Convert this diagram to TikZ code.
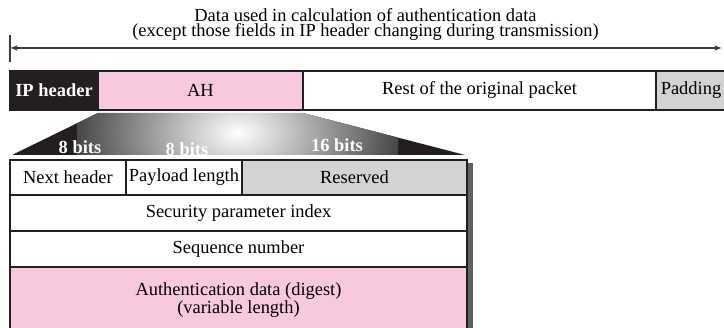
\documentclass[tikz,border=0pt]{standalone}
\usepackage{fontspec}
\setmainfont{Liberation Serif}
\usetikzlibrary{arrows.meta,positioning}
\definecolor{ahpink}{RGB}{247,200,222}
\definecolor{padgray}{RGB}{209,211,212}
\definecolor{hdrblack}{RGB}{35,31,32}
\definecolor{spangray}{RGB}{60,60,60}

\begin{document}
\begin{tikzpicture}[font=\fontsize{10.5}{9.1}\selectfont, >={Latex[length=4pt,width=3pt]},
  field/.style={draw=hdrblack, line width=0.6pt, minimum height=0.78cm, inner sep=0pt, outer sep=0pt, anchor=west},
  ahrow/.style={draw=hdrblack, line width=0.9pt, inner sep=0pt, outer sep=0pt, anchor=north west},
  bitslabel/.style={text=white, font=\fontsize{10.5}{9.1}\selectfont\bfseries}]

\useasboundingbox (0,0) rectangle (14.48,6.56);

% ---------- span of authenticated data ----------
\node[align=center] (span) at (7.31,6.07)
  {Data used in calculation of authentication data\\(except those fields in IP header changing during transmission)};
\coordinate (spanL) at (0.20,5.60);
\coordinate (spanR) at (14.44,5.60);
\draw[spangray,line width=0.6pt] ([yshift=0.26cm]spanL) -- ([yshift=-0.28cm]spanL);
\draw[<->,spangray,line width=0.6pt] (spanL) -- (spanR);

% ---------- packet ----------
\node[field, fill=hdrblack, text=white, font=\fontsize{10.5}{9.1}\selectfont\bfseries, minimum width=1.76cm] (iph) at (0.20,4.75) {IP header};
\node[field, fill=ahpink, minimum width=4.10cm, right=0pt of iph] (ah) {AH};
\node[field, minimum width=7.06cm, right=0pt of ah] (rest) {Rest of the original packet};
\node[field, fill=padgray, minimum width=1.40cm, right=0pt of rest] (pad) {Padding};

% ---------- AH format ----------
\node[ahrow, minimum width=2.32cm, minimum height=0.70cm] (nh) at (0.20,3.36) {Next header};
\node[ahrow, minimum width=2.32cm, minimum height=0.70cm] (pl) at (nh.north east) {Payload length};
\node[ahrow, fill=padgray, minimum width=4.50cm, minimum height=0.70cm] (rsv) at (pl.north east) {Reserved};
\node[ahrow, minimum width=9.14cm, minimum height=0.72cm] (spi) at (nh.south west) {Security parameter index};
\node[ahrow, minimum width=9.14cm, minimum height=0.72cm] (seq) at (spi.south west) {Sequence number};
\node[ahrow, fill=ahpink, minimum width=9.14cm, minimum height=1.32cm, align=center] (auth) at (seq.south west)
  {Authentication data (digest)\\(variable length)};
\fill[black!62] ([shift={(0.02,-0.06)}]rsv.north east) rectangle ([xshift=0.11cm]auth.south east);

% ---------- fan from AH down to its fields ----------
\coordinate (fanTL) at ([yshift=-0.06cm]ah.south west);
\coordinate (fanTR) at ([yshift=-0.06cm]ah.south east);
\coordinate (fanBL) at ([shift={(0.04,0.10)}]nh.north west);
\coordinate (fanBR) at ([shift={(-0.04,0.10)}]rsv.north east);
\begin{scope}
  \clip (fanTL) -- (fanTR) -- (fanBR) -- (fanBL) -- cycle;
  \fill[hdrblack] (fanBL) rectangle (fanTR -| fanBR);
  \shade[inner color=white, outer color=black!72] (1.54,1.90) rectangle (7.96,5.90);
\end{scope}

\node[bitslabel] (bitsA) at (1.60,3.62) {8 bits};
\node[bitslabel] (bitsB) at (3.74,3.58) {8 bits};
\node[bitslabel] (bitsC) at (6.74,3.66) {16 bits};

\end{tikzpicture}
\end{document}
